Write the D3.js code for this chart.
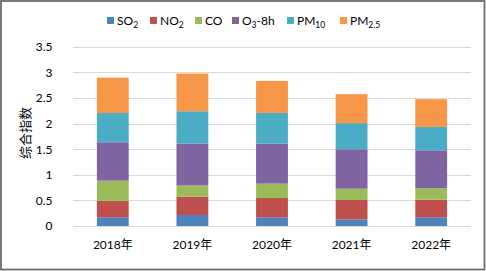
<!DOCTYPE html>
<html>
<head>
<meta charset="utf-8">
<script src="https://cdn.jsdelivr.net/npm/d3@7"></script>
<style>
  body { margin: 0; background: #fff; }
  text { font-family: Lato, "Noto Sans CJK SC", sans-serif; fill: #000; }
</style>
</head>
<body>
<div id="chart"></div>
<script>
// chart size
var width = 486;
var height = 271;

// data
var years = ["2018年", "2019年", "2020年", "2021年", "2022年"];
var so2  = [0.17, 0.215, 0.17, 0.13, 0.17];
var no2  = [0.32, 0.36, 0.377, 0.378, 0.344];
var co   = [0.395, 0.215, 0.28, 0.22, 0.222];
var o3   = [0.75, 0.82, 0.78, 0.77, 0.742];
var pm10 = [0.57, 0.63, 0.6, 0.51, 0.456];
var pm25 = [0.69, 0.735, 0.625, 0.566, 0.541];
var yTicks = [0, 0.5, 1, 1.5, 2, 2.5, 3, 3.5];

var seriesNames = [
  {key: "so2",  main: "SO", sub: "2"},
  {key: "no2",  main: "NO", sub: "2"},
  {key: "co",   main: "CO", sub: ""},
  {key: "o3",   main: "O", sub: "3", tail: "-8h"},
  {key: "pm10", main: "PM", sub: "10"},
  {key: "pm25", main: "PM", sub: "2.5"}
];
var colors = ["#4f81bd", "#c0504d", "#9bbb59", "#8064a2", "#4bacc6", "#f79646"];

// build table for the stack
var table = years.map(function(y, i) {
  return {year: y, so2: so2[i], no2: no2[i], co: co[i], o3: o3[i], pm10: pm10[i], pm25: pm25[i]};
});
var keys = seriesNames.map(function(d) { return d.key; });
var stacked = d3.stack().keys(keys)(table);

var margin = {left: 73, right: 15, top: 46.7, bottom: 45};

var svg = d3.select("#chart")
  .append("svg")
  .attr("width", width)
  .attr("height", height);

// outer frame
svg.append("rect")
  .attr("x", 1)
  .attr("y", 1)
  .attr("width", width - 2.5)
  .attr("height", height - 2.5)
  .attr("fill", "#fff")
  .attr("stroke", "#6b6b6b")
  .attr("stroke-width", 1.8);

var x = d3.scaleBand()
  .domain(years)
  .range([margin.left, width - margin.right])
  .paddingInner(0.6)
  .paddingOuter(0.3);

var y = d3.scaleLinear()
  .domain([0, 3.5])
  .range([226, margin.top]);

// gridlines
svg.append("g")
  .selectAll("line")
  .data(yTicks)
  .enter()
  .append("line")
  .attr("x1", margin.left)
  .attr("x2", width - margin.right)
  .attr("y1", function(d) { return Math.round(y(d)) + 0.5; })
  .attr("y2", function(d) { return Math.round(y(d)) + 0.5; })
  .attr("stroke", "#d9d9d9")
  .attr("stroke-width", 1);

// y axis labels
var yAxis = d3.axisLeft(y).tickValues(yTicks).tickSize(0).tickPadding(0)
  .tickFormat(function(d) { return String(d); });
var gy = svg.append("g")
  .attr("transform", "translate(" + 52.5 + ",0)")
  .call(yAxis);
gy.select(".domain").remove();
gy.selectAll("text")
  .attr("font-size", 12)
  .attr("font-family", "Lato, sans-serif")
  .attr("fill", "#000");

// x axis labels
var xAxis = d3.axisBottom(x).tickSize(0).tickPadding(0);
var gx = svg.append("g")
  .attr("transform", "translate(0," + 240.5 + ")")
  .call(xAxis);
gx.select(".domain").remove();
gx.selectAll("text")
  .attr("font-size", 12)
  .attr("font-family", "Lato, 'Noto Sans CJK SC', sans-serif")
  .attr("fill", "#000");

// y axis title
svg.append("text")
  .attr("transform", "translate(30,133) rotate(-90)")
  .attr("text-anchor", "middle")
  .attr("font-size", 13)
  .attr("font-family", "'Noto Sans CJK SC', sans-serif")
  .attr("fill", "#404040")
  .text("综合指数");

// bars
svg.append("g")
  .selectAll("g")
  .data(stacked)
  .enter()
  .append("g")
  .attr("fill", function(d, i) { return colors[i]; })
  .selectAll("rect")
  .data(function(d) { return d; })
  .enter()
  .append("rect")
  .attr("x", function(d) { return x(d.data.year); })
  .attr("y", function(d) { return y(d[1]); })
  .attr("width", x.bandwidth())
  .attr("height", function(d) { return y(d[0]) - y(d[1]); });

// legend
var legendX = [107, 150, 195, 232, 287, 340];
var legend = svg.append("g");
var items = legend.selectAll("g")
  .data(seriesNames)
  .enter()
  .append("g")
  .attr("transform", function(d, i) { return "translate(" + legendX[i] + ",0)"; });

items.append("rect")
  .attr("x", 0)
  .attr("y", 17)
  .attr("width", 7)
  .attr("height", 7)
  .attr("fill", function(d, i) { return colors[i]; });

var labels = items.append("text")
  .attr("x", 10)
  .attr("y", 25)
  .attr("font-size", 12)
  .attr("font-family", "Lato, sans-serif");
labels.append("tspan").text(function(d) { return d.main; });
labels.append("tspan")
  .attr("font-size", 8.5)
  .attr("dy", 3)
  .text(function(d) { return d.sub; });
labels.append("tspan")
  .attr("dy", -3)
  .text(function(d) { return d.tail || ""; });
</script>
</body>
</html>
